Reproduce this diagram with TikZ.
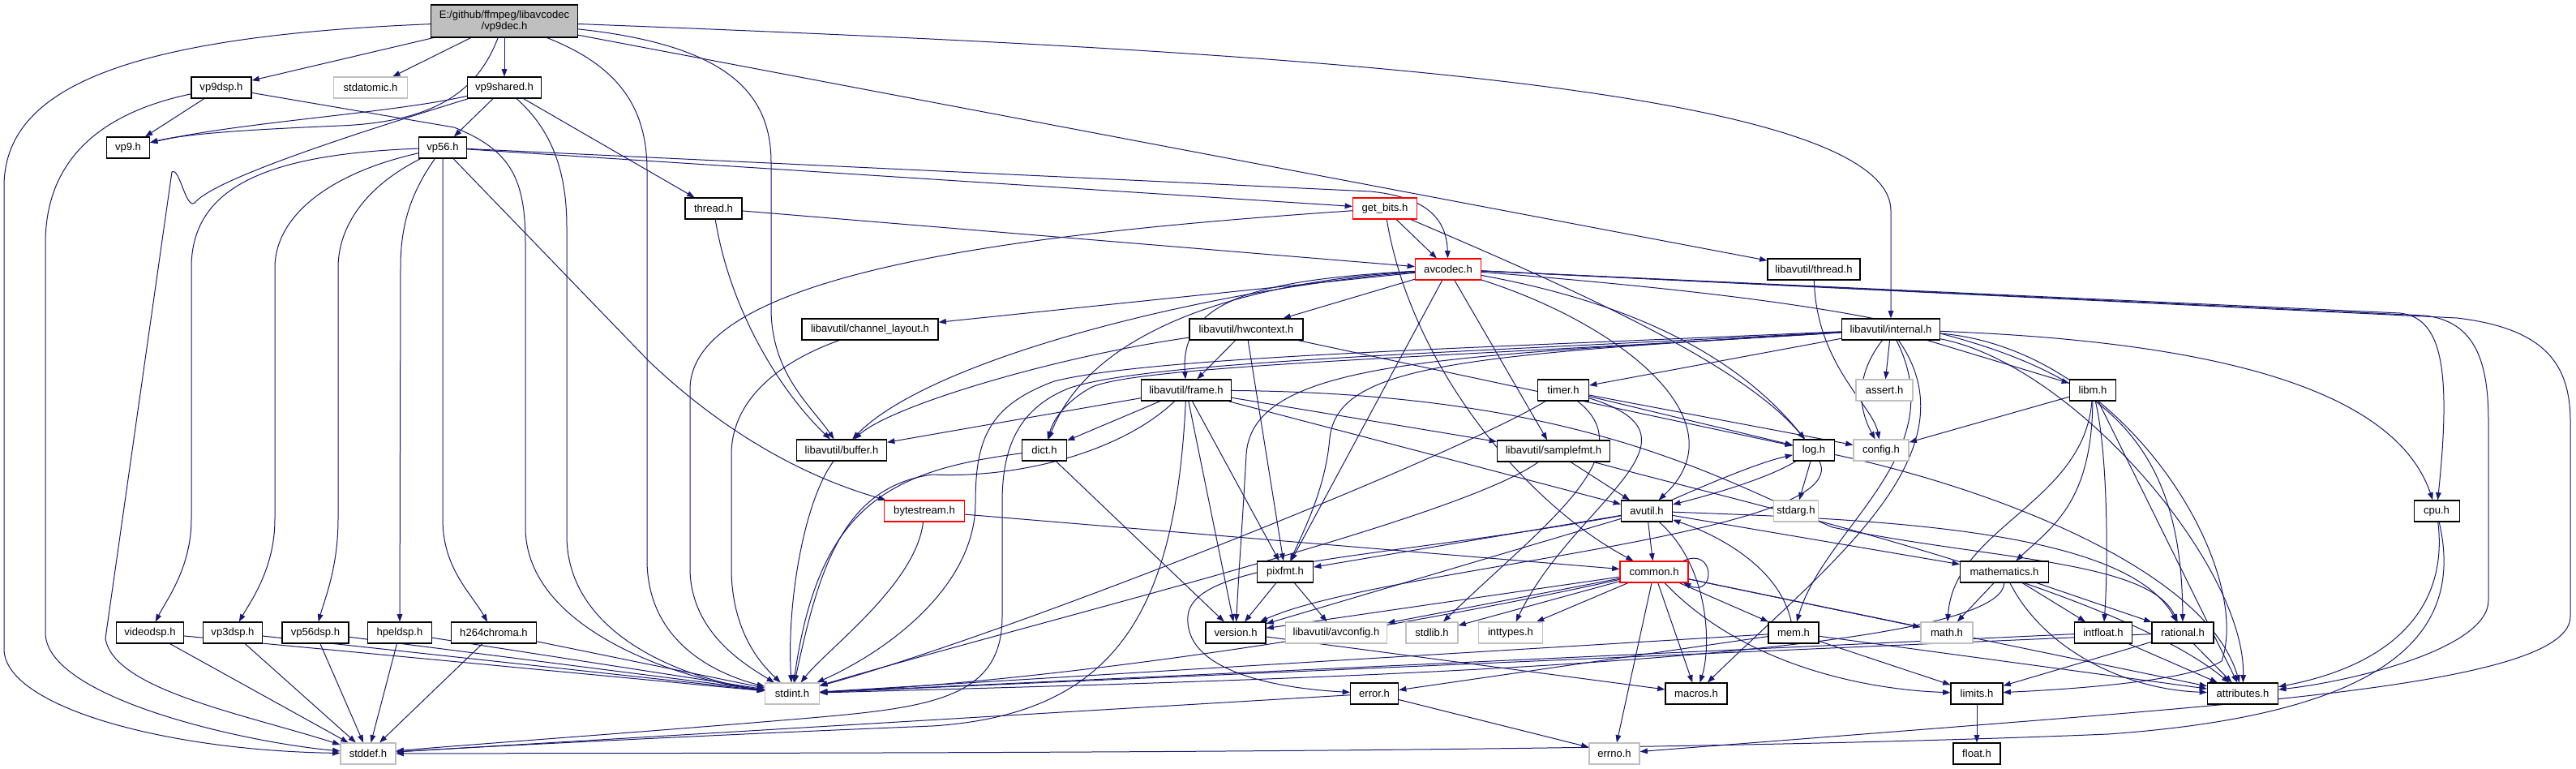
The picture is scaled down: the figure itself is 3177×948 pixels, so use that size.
\documentclass[tikz,border=0pt]{standalone}
\usepackage{fontspec}
\setmainfont{Liberation Sans}
\usetikzlibrary{arrows.meta}
\definecolor{edgec}{RGB}{25,25,112}
\definecolor{grayb}{RGB}{191,191,191}
\pgfdeclarelayer{back}
\pgfdeclarelayer{bg}
\pgfsetlayers{back,bg,main}
\tikzset{
  nd/.style={draw=black, line width=0.8pt, fill=white, font=\fontsize{9.8}{11}\selectfont, minimum height=19.5pt, inner sep=0pt, anchor=center},
  gr/.style={nd, draw=grayb},
  rd/.style={nd, draw=red},
  wd/.style={minimum width=#1*0.75pt},
  e/.style={draw=edgec, line width=0.75pt, -{Triangle[length=7pt,width=5pt]}},
}
\begin{document}
\begin{tikzpicture}[x=0.75pt, y=-0.75pt]
\begin{pgfonlayer}{back}
\fill[white] (0,0) rectangle (3177,948);
\end{pgfonlayer}
\useasboundingbox (0,0) rectangle (3177,948);
% nodes
\node[nd, fill=grayb, wd=181, minimum height=30pt, align=center] (vp9dec) at (622,26) {E:/github/ffmpeg/libavcodec\\/vp9dec.h};
\node[nd, wd=74] (vp9dsp) at (273,108) {vp9dsp.h};
\node[gr, wd=91] (stdatomic) at (457,108) {stdatomic.h};
\node[nd, wd=91] (vp9shared) at (622,108) {vp9shared.h};
\node[nd, wd=53] (vp9) at (158,182) {vp9.h};
\node[nd, wd=59] (vp56) at (546,182) {vp56.h};
\node[nd, wd=70] (thread) at (880,257) {thread.h};
\node[rd, wd=79] (getbits) at (1708,257) {get\_bits.h};
\node[rd, wd=81] (avcodec) at (1786,332) {avcodec.h};
\node[nd, wd=114] (lthread) at (2237,332) {libavutil/thread.h};
\node[nd, wd=168] (chlayout) at (1073,406) {libavutil/channel\_layout.h};
\node[nd, wd=140] (hwctx) at (1537,406) {libavutil/hwcontext.h};
\node[nd, wd=121] (internal) at (2332,406) {libavutil/internal.h};
\node[nd, wd=111] (frame) at (1463,481) {libavutil/frame.h};
\node[nd, wd=63] (timer) at (1928,481) {timer.h};
\node[gr, wd=70] (assert) at (2324,481) {assert.h};
\node[nd, wd=57] (libm) at (2581,481) {libm.h};
\node[nd, wd=111] (buffer) at (1038,555) {libavutil/buffer.h};
\node[nd, wd=55] (dict) at (1288,555) {dict.h};
\node[nd, wd=139] (samplefmt) at (1916,556) {libavutil/samplefmt.h};
\node[nd, wd=51] (log) at (2237,555) {log.h};
\node[gr, wd=68] (config) at (2320,555) {config.h};
\node[rd, wd=99] (bytestream) at (1140,630) {bytestream.h};
\node[nd, wd=63] (avutil) at (2031,630) {avutil.h};
\node[gr, wd=55] (stdarg) at (2215,630) {stdarg.h};
\node[nd, wd=56] (cpu) at (3005,630) {cpu.h};
\node[nd, wd=69] (pixfmt) at (1585,705) {pixfmt.h};
\node[rd, wd=84] (common) at (2040,705) {common.h};
\node[nd, wd=109] (mathematics) at (2472,705) {mathematics.h};
\node[nd, wd=83] (videodsp) at (185,780) {videodsp.h};
\node[nd, wd=73] (vp3dsp) at (287,780) {vp3dsp.h};
\node[nd, wd=82] (vp56dsp) at (389,780) {vp56dsp.h};
\node[nd, wd=79] (hpeldsp) at (493,780) {hpeldsp.h};
\node[nd, wd=105] (h264chroma) at (609,780) {h264chroma.h};
\node[nd, wd=74] (version) at (1524,780) {version.h};
\node[gr, wd=125] (avconfig) at (1648,780) {libavutil/avconfig.h};
\node[gr, wd=64] (stdlib) at (1766,780) {stdlib.h};
\node[gr, wd=79] (inttypes) at (1863,780) {inttypes.h};
\node[nd, wd=62] (mem) at (2212,780) {mem.h};
\node[gr, wd=64] (math) at (2401,780) {math.h};
\node[nd, wd=71] (intfloat) at (2594,780) {intfloat.h};
\node[nd, wd=76] (rational) at (2692,780) {rational.h};
\node[gr, wd=67] (stdint) at (977,855) {stdint.h};
\node[nd, wd=59] (error) at (1695,855) {error.h};
\node[nd, wd=76] (macros) at (2092,855) {macros.h};
\node[nd, wd=64] (limits) at (2438,855) {limits.h};
\node[nd, wd=87] (attributes) at (2766,855) {attributes.h};
\node[gr, wd=68] (stddef) at (454,929) {stddef.h};
\node[gr, wd=62] (errno) at (1991,929) {errno.h};
\node[nd, wd=58] (float) at (2438,929) {float.h};

\begin{pgfonlayer}{bg}
% vp9dec
\draw[e] (vp9dec) .. controls (150,45) and (5,110) .. (5,230) -- (5,800) .. controls (5,870) and (200,925) .. (stddef);
\draw[e] (vp9dec) -- (vp9dsp);
\draw[e] (vp9dec) -- (stdatomic);
\draw[e] (vp9dec) -- (vp9shared);
\draw[e] (vp9dec) .. controls (590,110) and (540,150) .. (420,155) .. controls (300,160) and (230,165) .. (vp9);
\draw[e] (vp9dec) .. controls (760,80) and (798,130) .. (798,210) -- (798,690) .. controls (798,790) and (880,830) .. (stdint);
\draw[e] (vp9dec) .. controls (890,55) and (951,110) .. (951,200) -- (951,380) .. controls (951,460) and (1000,500) .. (buffer);
\draw[e] (vp9dec) .. controls (1500,60) and (2332,100) .. (2332,260) -- (internal);
\draw[e] (vp9dec) -- (lthread);
% vp9dsp
\draw[e] (vp9dsp) -- (vp9);
\draw[e] (vp9dsp) .. controls (120,140) and (56,200) .. (56,300) -- (56,780) .. controls (56,860) and (300,915) .. (stddef);
\draw[e] (vp9dsp) -- (560,157) .. controls (630,185) and (648,220) .. (648,300) -- (648,650) .. controls (648,780) and (850,840) .. (stdint);
% vp9shared
\draw[e] (vp9shared) .. controls (480,140) and (300,150) .. (vp9);
\draw[e] (vp9shared) .. controls (420,170) and (270,220) .. (242,248) .. controls (230,265) and (222,205) .. (212,212) -- (130,787) .. controls (140,850) and (300,880) .. (stddef);
\draw[e] (vp9shared) .. controls (680,160) and (699,210) .. (699,280) -- (699,660) .. controls (699,790) and (860,840) .. (stdint);
\draw[e] (vp9shared) -- (vp56);
\draw[e] (vp9shared) -- (thread);
% vp56
\draw[e] (vp56) .. controls (330,190) and (236,230) .. (236,330) -- (236,640) .. controls (236,700) and (205,740) .. (videodsp);
\draw[e] (vp56) .. controls (400,215) and (339,270) .. (339,330) -- (339,640) .. controls (339,700) and (310,740) .. (vp3dsp);
\draw[e] (vp56) .. controls (450,230) and (417,280) .. (417,330) -- (417,640) .. controls (417,700) and (400,740) .. (vp56dsp);
\draw[e] (vp56) .. controls (505,240) and (494,280) .. (494,330) -- (hpeldsp);
\draw[e] (vp56) -- (546,640) .. controls (546,700) and (580,730) .. (h264chroma);
\draw[e] (vp56) -- (800,445) .. controls (900,540) and (1000,590) .. (bytestream);
\draw[e] (vp56) -- (getbits);
\draw[e] (vp56) -- (1690,236) .. controls (1760,243) and (1784,270) .. (avcodec);
% dsp leaves
\draw[e] (videodsp) -- (stddef);
\draw[e] (videodsp) -- (stdint);
\draw[e] (vp3dsp) -- (stddef);
\draw[e] (vp3dsp) -- (stdint);
\draw[e] (vp56dsp) -- (stddef);
\draw[e] (vp56dsp) -- (stdint);
\draw[e] (hpeldsp) -- (stddef);
\draw[e] (hpeldsp) -- (stdint);
\draw[e] (h264chroma) -- (stddef);
\draw[e] (h264chroma) -- (stdint);
% thread
\draw[e] (thread) -- (avcodec);
\draw[e] (thread) .. controls (900,380) and (960,480) .. (buffer);
% get_bits
\draw[e] (getbits) -- (avcodec);
\draw[e] (getbits) .. controls (1300,285) and (851,330) .. (851,480) -- (851,700) .. controls (851,780) and (920,820) .. (stdint);
\draw[e] (getbits) .. controls (1740,450) and (1880,620) .. (common);
\draw[e] (getbits) .. controls (1950,360) and (2150,450) .. (log);
% bytestream
\draw[e] (bytestream) .. controls (1130,720) and (1020,800) .. (stdint);
\draw[e] (bytestream) -- (common);
% avcodec
\draw[e] (avcodec) -- (chlayout);
\draw[e] (avcodec) -- (hwctx);
\draw[e] (avcodec) .. controls (1550,345) and (1455,370) .. (frame);
\draw[e] (avcodec) .. controls (1500,350) and (1340,420) .. (dict);
\draw[e] (avcodec) .. controls (1500,355) and (1150,440) .. (buffer);
\draw[e] (avcodec) -- (pixfmt);
\draw[e] (avcodec) -- (samplefmt);
\draw[e] (avcodec) .. controls (2000,400) and (2150,520) .. (avutil);
\draw[e] (avcodec) .. controls (2050,380) and (2160,460) .. (log);
\draw[e] (avcodec) .. controls (2500,390) and (2690,450) .. (rational);
\draw[e] (avcodec) -- (2960,386) .. controls (3010,392) and (3024,450) .. (cpu);
\draw[e] (avcodec) -- (2990,389) .. controls (3055,396) and (3069,450) .. (3069,520) -- (3069,740) .. controls (3069,800) and (2900,840) .. (attributes);
\draw[e] (avcodec) -- (3030,392) .. controls (3140,405) and (3170,450) .. (3170,520) -- (3170,760) .. controls (3170,840) and (2800,865) .. (2400,897) -- (errno);
% channel_layout
\draw[e] (chlayout) .. controls (950,450) and (902,500) .. (902,560) -- (902,700) .. controls (902,780) and (940,820) .. (stdint);
% hwcontext
\draw[e] (hwctx) .. controls (1300,440) and (1100,500) .. (buffer);
\draw[e] (hwctx) -- (frame);
\draw[e] (hwctx) -- (log);
\draw[e] (hwctx) -- (pixfmt);
% frame
\draw[e] (frame) .. controls (1450,750) and (1380,880) .. (1150,895) .. controls (900,905) and (600,920) .. (stddef);
\draw[e] (frame) .. controls (1380,560) and (1250,590) .. (1150,585) .. controls (1040,600) and (1010,700) .. (stdint);
\draw[e] (frame) -- (avutil);
\draw[e] (frame) -- (buffer);
\draw[e] (frame) -- (dict);
\draw[e] (frame) .. controls (1950,485) and (2120,590) .. (2260,650) .. controls (2450,690) and (2650,690) .. (rational);
\draw[e] (frame) -- (samplefmt);
\draw[e] (frame) -- (pixfmt);
\draw[e] (frame) -- (version);
% buffer, dict, samplefmt
\draw[e] (buffer) .. controls (990,620) and (970,750) .. (stdint);
\draw[e] (dict) .. controls (1100,580) and (1010,620) .. (stdint);
\draw[e] (dict) -- (version);
\draw[e] (samplefmt) .. controls (1800,640) and (1300,760) .. (stdint);
\draw[e] (samplefmt) -- (avutil);
\draw[e] (samplefmt) .. controls (2150,620) and (2600,720) .. (attributes);
% avutil
\draw[e] (avutil) -- (common);
\draw[e] (avutil) .. controls (1700,690) and (1470,690) .. (1465,760) .. controls (1460,835) and (1600,850) .. (error);
\draw[e] (avutil) .. controls (2300,640) and (2620,650) .. (rational);
\draw[e] (avutil) -- (version);
\draw[e] (avutil) .. controls (2110,700) and (2110,800) .. (macros);
\draw[e] (avutil) -- (mathematics);
\draw[e] (avutil) .. controls (2110,595) and (2170,570) .. (log);
\draw[e] (avutil) -- (pixfmt);
% common
\draw[e] (common) -- (errno);
\draw[e] (common) -- (inttypes);
\draw[e] (common) .. controls (2150,820) and (2300,850) .. (limits);
\draw[e] (common) -- (math);
\draw[e] (common) .. controls (1700,780) and (1300,840) .. (stdint);
\draw[e] (common) -- (stdlib);
\draw[e] (common) -- (attributes);
\draw[e] (common) -- (macros);
\draw[e] (common) -- (version);
\draw[e] (common) -- (avconfig);
\draw[e] (common) -- (mem);
\draw[e] ([xshift=-5pt]common.north east) .. controls +(40,-18) and +(40,18) .. ([xshift=-5pt]common.south east);
% log
\draw[e] (log) -- (stdarg);
\draw[e] (log) .. controls (2180,590) and (2110,610) .. (avutil);
\draw[e] (log) .. controls (2450,600) and (2720,700) .. (attributes);
\draw[e] (log) .. controls (2290,660) and (1700,700) .. (version);
% pixfmt, version, error
\draw[e] (pixfmt) -- (avconfig);
\draw[e] (pixfmt) -- (version);
\draw[e] (version) -- (macros);
\draw[e] (error) -- (errno);
\draw[e] (error) -- (stddef);
% mem
\draw[e] (mem) -- (limits);
\draw[e] (mem) -- (stdint);
\draw[e] (mem) -- (attributes);
\draw[e] (mem) -- (error);
\draw[e] (mem) .. controls (2195,700) and (2120,660) .. (avutil);
% rational
\draw[e] (rational) -- (stdint);
\draw[e] (rational) -- (limits);
\draw[e] (rational) -- (attributes);
% mathematics
\draw[e] (mathematics) .. controls (2470,820) and (1500,840) .. (stdint);
\draw[e] (mathematics) -- (math);
\draw[e] (mathematics) .. controls (2520,800) and (2620,850) .. (attributes);
\draw[e] (mathematics) -- (rational);
\draw[e] (mathematics) -- (intfloat);
% intfloat, limits
\draw[e] (intfloat) -- (stdint);
\draw[e] (intfloat) -- (attributes);
\draw[e] (limits) -- (float);
% cpu
\draw[e] (cpu) .. controls (3040,780) and (2950,880) .. (2600,905) .. controls (2000,930) and (1000,928) .. (stddef);
\draw[e] (cpu) .. controls (3020,750) and (2950,820) .. (attributes);
% internal
\draw[e] (internal) .. controls (2620,430) and (2780,700) .. (2740,815) .. controls (2700,840) and (2550,850) .. (limits);
\draw[e] (internal) .. controls (1800,430) and (1420,440) .. (1300,470) .. controls (1220,500) and (1203,540) .. (1203,620) .. controls (1203,720) and (1100,800) .. (stdint);
\draw[e] (internal) .. controls (1800,435) and (1420,445) .. (1320,478) .. controls (1250,505) and (1236,560) .. (1236,620) -- (1236,760) .. controls (1236,860) and (1150,872) .. (1000,885) .. controls (800,902) and (550,920) .. (stddef);
\draw[e] (internal) -- (assert);
\draw[e] (internal) .. controls (2290,460) and (2290,500) .. (config);
\draw[e] (internal) .. controls (2560,450) and (2770,700) .. (attributes);
\draw[e] (internal) -- (timer);
\draw[e] (internal) .. controls (2700,420) and (2950,470) .. (cpu);
\draw[e] (internal) .. controls (1800,440) and (1400,450) .. (1345,478) .. controls (1315,495) and (1300,515) .. (dict);
\draw[e] (internal) .. controls (2440,560) and (2250,700) .. (macros);
\draw[e] (internal) .. controls (2410,560) and (2250,650) .. (mem);
\draw[e] (internal) .. controls (1800,438) and (1650,450) .. (1640,540) .. controls (1635,600) and (1610,650) .. (pixfmt);
\draw[e] (internal) .. controls (1800,440) and (1545,440) .. (1537,560) .. controls (1532,650) and (1528,700) .. (version);
\draw[e] (internal) -- (libm);
% timer
\draw[e] (timer) .. controls (2030,560) and (1900,650) .. (stdlib);
\draw[e] (timer) .. controls (1800,560) and (1250,780) .. (stdint);
\draw[e] (timer) .. controls (2120,540) and (1940,620) .. (inttypes);
\draw[e] (timer) -- (config);
\draw[e] (timer) -- (log);
% libm
\draw[e] (libm) .. controls (2570,620) and (2410,650) .. (math);
\draw[e] (libm) -- (config);
\draw[e] (libm) -- (attributes);
\draw[e] (libm) .. controls (2600,560) and (2600,700) .. (intfloat);
\draw[e] (libm) .. controls (2580,620) and (2530,650) .. (mathematics);
% libavutil/thread
\draw[e] (lthread) .. controls (2240,450) and (2310,500) .. (config);
\end{pgfonlayer}
\end{tikzpicture}
\end{document}
